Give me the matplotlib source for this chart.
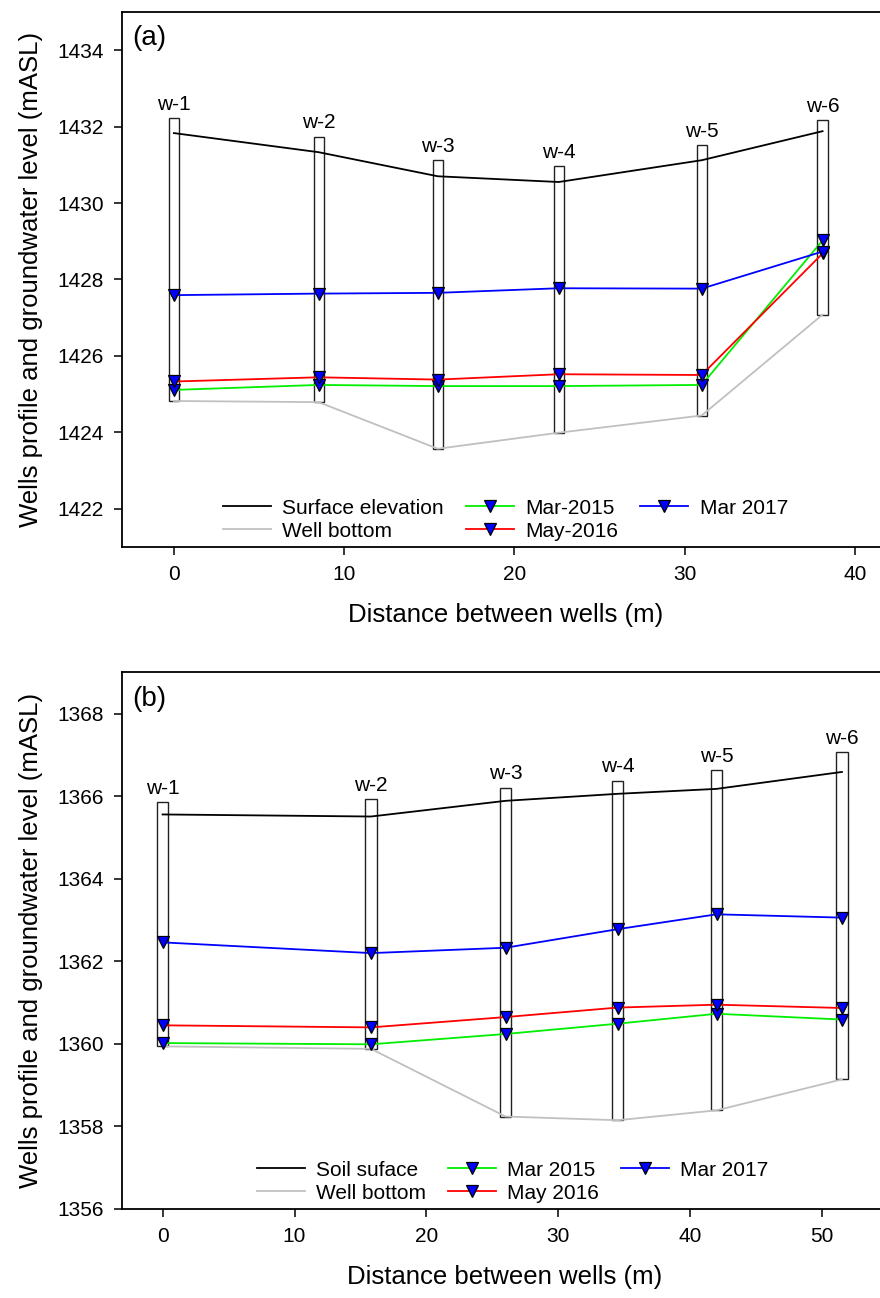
import matplotlib
matplotlib.use("Agg")
import matplotlib.pyplot as plt
from matplotlib.patches import Rectangle

plt.rcParams['font.family'] = ['Liberation Sans', 'DejaVu Sans']

# well names
wells = ['w-1', 'w-2', 'w-3', 'w-4', 'w-5', 'w-6']

# panel (a) data
dist_a = [0, 8.5, 15.5, 22.6, 31.0, 38.1]
top_a = [1432.22, 1431.74, 1431.12, 1430.96, 1431.52, 1432.18]
surface_a = [1431.83, 1431.33, 1430.70, 1430.55, 1431.12, 1431.88]
bottom_a = [1424.82, 1424.79, 1423.57, 1423.99, 1424.44, 1427.08]
mar2015_a = [1425.11, 1425.24, 1425.21, 1425.21, 1425.24, 1429.02]
may2016_a = [1425.33, 1425.44, 1425.38, 1425.52, 1425.50, 1428.68]
mar2017_a = [1427.59, 1427.63, 1427.65, 1427.77, 1427.76, 1428.73]
labels_a = ['Surface elevation', 'Well bottom', 'Mar-2015', 'May-2016', 'Mar 2017']

# panel (b) data
dist_b = [0, 15.8, 26.0, 34.5, 42.0, 51.5]
top_b = [1365.86, 1365.93, 1366.21, 1366.38, 1366.63, 1367.07]
surface_b = [1365.56, 1365.51, 1365.89, 1366.06, 1366.18, 1366.59]
bottom_b = [1359.94, 1359.88, 1358.24, 1358.15, 1358.39, 1359.14]
mar2015_b = [1360.02, 1359.99, 1360.24, 1360.49, 1360.73, 1360.59]
may2016_b = [1360.45, 1360.40, 1360.65, 1360.88, 1360.95, 1360.87]
mar2017_b = [1362.46, 1362.20, 1362.33, 1362.78, 1363.14, 1363.06]
labels_b = ['Soil suface', 'Well bottom', 'Mar 2015', 'May 2016', 'Mar 2017']


def draw_panel(ax, dist, top, surface, bottom, mar15, may16, mar17, labels,
               well_w, tag, leg_x):
    # well casings
    for x, t, b, name in zip(dist, top, bottom, wells):
        ax.add_patch(Rectangle((x - well_w / 2, b), well_w, t - b,
                               facecolor='white', edgecolor='#222222',
                               lw=1.0, zorder=2))
        ax.annotate(name, (x, t), xytext=(0, 3), textcoords='offset points',
                    ha='center', va='bottom', fontsize=15)

    mk = dict(marker='v', markersize=8, markerfacecolor='#0000ff',
              markeredgecolor='black', markeredgewidth=0.9)
    l1, = ax.plot(dist, surface, color='black', lw=1.3, zorder=3)
    l2, = ax.plot(dist, bottom, color='#c0c0c0', lw=1.3, zorder=3)
    l3, = ax.plot(dist, mar15, color='#00ee00', lw=1.3, zorder=4, **mk)
    l4, = ax.plot(dist, may16, color='#ff0000', lw=1.3, zorder=4, **mk)
    l5, = ax.plot(dist, mar17, color='#0000ff', lw=1.3, zorder=4, **mk)

    ax.legend([l1, l2, l3, l4, l5], labels, ncol=3, loc='lower center',
              bbox_to_anchor=(leg_x, 0.0), frameon=False, fontsize=15,
              numpoints=1, handlelength=2.3, handletextpad=0.55,
              columnspacing=1.05, labelspacing=0.2, borderaxespad=0,
              borderpad=0.3)

    ax.text(0.014, 0.975, tag, transform=ax.transAxes, ha='left', va='top',
            fontsize=20)
    ax.set_xlabel('Distance between wells (m)', fontsize=18.5, labelpad=14)
    ax.set_ylabel('Wells profile and groundwater level (mASL)', fontsize=18.5,
                  labelpad=10)
    ax.tick_params(direction='out', length=6, width=1.1, labelsize=15, pad=7)
    for s in ax.spines.values():
        s.set_linewidth(1.3)


fig = plt.figure(figsize=(8.8, 12.98), dpi=100)

ax1 = fig.add_axes([0.1386, 0.5786, 0.8716, 0.4122])
draw_panel(ax1, dist_a, top_a, surface_a, bottom_a, mar2015_a, may2016_a,
           mar2017_a, labels_a, 0.6, '(a)', 0.5)
ax1.set_xlim(-3.05, 42)
ax1.set_ylim(1421, 1435)
ax1.set_xticks([0, 10, 20, 30, 40])
ax1.set_yticks([1422, 1424, 1426, 1428, 1430, 1432, 1434])

ax2 = fig.add_axes([0.1386, 0.0686, 0.8706, 0.4133])
draw_panel(ax2, dist_b, top_b, surface_b, bottom_b, mar2015_b, may2016_b,
           mar2017_b, labels_b, 0.85, '(b)', 0.51)
ax2.set_xlim(-3.08, 55)
ax2.set_ylim(1356, 1369)
ax2.set_xticks([0, 10, 20, 30, 40, 50])
ax2.set_yticks([1356, 1358, 1360, 1362, 1364, 1366, 1368])

fig.savefig('out.png', dpi=100)
